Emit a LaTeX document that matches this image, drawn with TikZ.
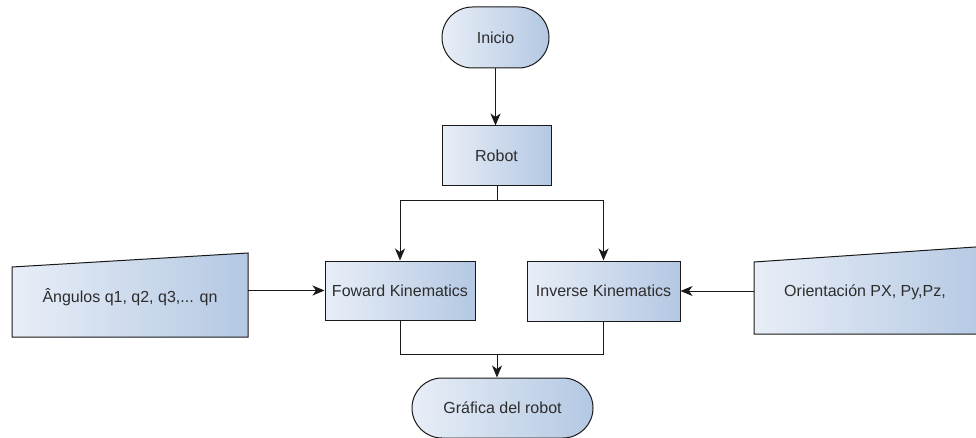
\documentclass[tikz,border=0pt]{standalone}
\usepackage{fontspec}
\setmainfont{Liberation Sans}
\usetikzlibrary{shapes.misc,arrows.meta}
\definecolor{gl}{RGB}{232,238,247}
\definecolor{gr}{RGB}{180,200,227}
\definecolor{txt}{RGB}{45,45,45}
\definecolor{ln}{RGB}{25,25,25}
\begin{document}
\begin{tikzpicture}[x=1pt,y=-1pt,
  shp/.style={draw=ln, line width=1pt, left color=gl, right color=gr, text=txt,
    font=\fontsize{16}{18}\selectfont, inner sep=0pt},
  proc/.style={shp, rectangle},
  term/.style={shp, rounded rectangle},
  lbl/.style={text=txt, font=\fontsize{16}{18}\selectfont, inner sep=0pt},
  conn/.style={draw=ln, line width=1pt},
  arr/.style={conn, -{Stealth[length=12pt,width=10pt,inset=3.5pt]}}]
\useasboundingbox (0,0) rectangle (976,438);
\clip (0,0) rectangle (976,438);
% terminals and processes
\node[term, minimum width=107pt, minimum height=61pt] (ini) at (495.5,37.5) {Inicio};
\node[proc, minimum width=109pt, minimum height=60pt] (rob) at (496.5,156) {Robot};
\node[proc, minimum width=150pt, minimum height=59pt] (fk) at (400,290.5) {Foward Kinematics};
\node[proc, minimum width=153pt, minimum height=60pt] (ik) at (603.5,291) {Inverse Kinematics};
\node[term, minimum width=181pt, minimum height=60pt] (gra) at (502.5,408) {Gráfica del robot};
% manual inputs
\path[draw=ln, line width=1pt, left color=gl, right color=gr]
  (12,267) -- (248,253) -- (248,337) -- (12,337) -- cycle;
\node[lbl, minimum width=236pt, minimum height=70pt] (in1) at (130,297) {Ângulos q1, q2, q3,... qn};
\path[draw=ln, line width=1pt, left color=gl, right color=gr]
  (754,262) -- (990,246) -- (990,334) -- (754,334) -- cycle;
\node[lbl] (in2t) at (865,292) {Orientación PX, Py,Pz,};
\coordinate (in2) at (754,291);
% connectors
\draw[arr] (ini) -- (ini |- rob.north);
\coordinate (split) at (497,201);
\draw[conn] (rob.south -| split) -- (split);
\draw[arr] (split) -| (fk.north);
\draw[arr] (split) -| (ik.north);
\draw[arr] (in1.east |- fk) -- (fk.west);
\draw[arr] (in2) -- (ik.east |- in2);
\coordinate (merge) at (497,354);
\draw[conn] (fk.south) |- (merge);
\draw[conn] (ik.south) |- (merge);
\draw[arr] (merge) -- (gra.north -| merge);
\end{tikzpicture}
\end{document}
